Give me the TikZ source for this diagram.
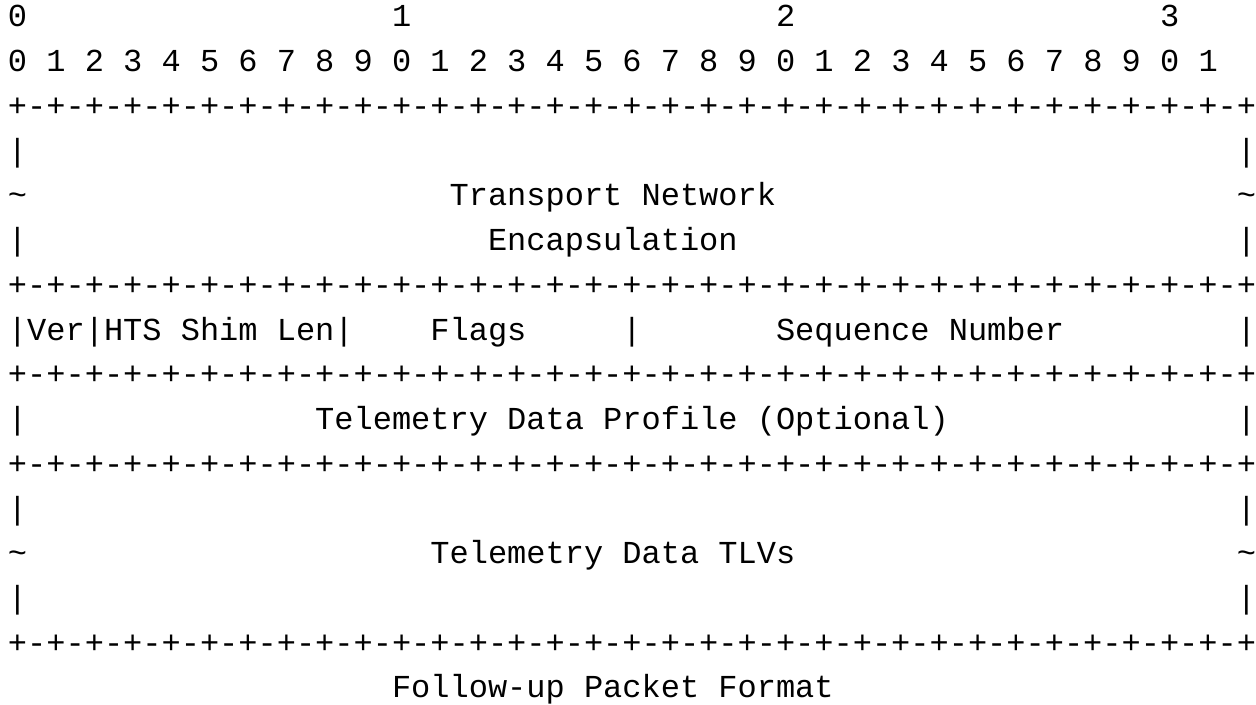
\documentclass[tikz,border=0pt]{standalone}
\usepackage{fontspec}
\newfontfamily\asciimono{Liberation Mono}
\begin{document}
\begin{tikzpicture}[x=0.5pt,y=-0.5pt,
  asc/.style={anchor=base west,inner sep=0pt,outer sep=0pt,font=\asciimono\fontsize{16}{16}\selectfont,text=black}]
\useasboundingbox (0,0) rectangle (1256,705);
% columns: x = 8 + c*19.2 ; baselines: 27 + (k-1)*44.73
% line 1
\node[asc] (h0) at (8,27.00) {0};
\node[asc] (h1) at (392,27.00) {1};
\node[asc] (h2) at (776,27.00) {2};
\node[asc] (h3) at (1160,27.00) {3};
% line 2
\node[asc] (digits) at (8,71.73) {0 1 2 3 4 5 6 7 8 9 0 1 2 3 4 5 6 7 8 9 0 1 2 3 4 5 6 7 8 9 0 1};
% line 3
\node[asc] (r1) at (8,116.46) {+-+-+-+-+-+-+-+-+-+-+-+-+-+-+-+-+-+-+-+-+-+-+-+-+-+-+-+-+-+-+-+-+};
% lines 4-6
\node[asc] (a4l) at (8,161.19) {|};
\node[asc] (a4r) at (1236.8,161.19) {|};
\node[asc] (a5l) at (8,205.92) {\string~};
\node[asc] (tn) at (449.6,205.92) {Transport Network};
\node[asc] (a5r) at (1236.8,205.92) {\string~};
\node[asc] (a6l) at (8,250.65) {|};
\node[asc] (enc) at (488,250.65) {Encapsulation};
\node[asc] (a6r) at (1236.8,250.65) {|};
% line 7
\node[asc] (r2) at (8,295.38) {+-+-+-+-+-+-+-+-+-+-+-+-+-+-+-+-+-+-+-+-+-+-+-+-+-+-+-+-+-+-+-+-+};
% line 8
\node[asc] (ver) at (8,340.11) {|Ver|HTS Shim Len|};
\node[asc] (flags) at (430.4,340.11) {Flags};
\node[asc] (sep) at (622.4,340.11) {|};
\node[asc] (seq) at (776,340.11) {Sequence Number};
\node[asc] (a8r) at (1236.8,340.11) {|};
% line 9
\node[asc] (r3) at (8,384.84) {+-+-+-+-+-+-+-+-+-+-+-+-+-+-+-+-+-+-+-+-+-+-+-+-+-+-+-+-+-+-+-+-+};
% line 10
\node[asc] (a10l) at (8,429.57) {|};
\node[asc] (tdp) at (315.2,429.57) {Telemetry Data Profile (Optional)};
\node[asc] (a10r) at (1236.8,429.57) {|};
% line 11
\node[asc] (r4) at (8,474.30) {+-+-+-+-+-+-+-+-+-+-+-+-+-+-+-+-+-+-+-+-+-+-+-+-+-+-+-+-+-+-+-+-+};
% lines 12-14
\node[asc] (a12l) at (8,519.03) {|};
\node[asc] (a12r) at (1236.8,519.03) {|};
\node[asc] (a13l) at (8,563.76) {\string~};
\node[asc] (tlv) at (430.4,563.76) {Telemetry Data TLVs};
\node[asc] (a13r) at (1236.8,563.76) {\string~};
\node[asc] (a14l) at (8,608.49) {|};
\node[asc] (a14r) at (1236.8,608.49) {|};
% line 15
\node[asc] (r5) at (8,653.22) {+-+-+-+-+-+-+-+-+-+-+-+-+-+-+-+-+-+-+-+-+-+-+-+-+-+-+-+-+-+-+-+-+};
% line 16
\node[asc] (cap) at (392,697.95) {Follow-up Packet Format};
\end{tikzpicture}
\end{document}
